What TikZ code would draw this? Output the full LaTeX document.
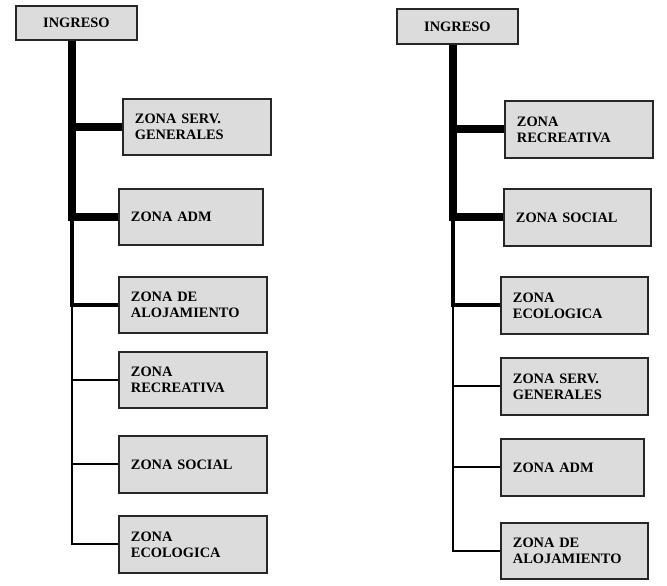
\documentclass[tikz,border=0pt]{standalone}
\usepackage{fontspec}
\setmainfont{Liberation Serif}
\usetikzlibrary{calc}
\definecolor{grisZona}{RGB}{220,220,220}
\tikzset{
  zona/.style={draw=black!85, fill=grisZona, line width=1.4pt, align=left,
    inner xsep=9pt, inner ysep=0pt, font=\bfseries\fontsize{10.8}{12}\selectfont},
  ingreso/.style={zona, align=center},
  grueso/.style={line width=6pt},
  medio/.style={line width=3pt},
  fino/.style={line width=1.5pt}
}
\newcommand\zona[6]{% name, left, top, width, height, text
\pgfmathsetlengthmacro\zonaancho{#4*0.75-18}
\node (#1) at (#2,#3) [zona, anchor=north west, minimum width=#4*0.75pt,
  minimum height=#5*0.75pt, text width=\zonaancho] {#6};}

\begin{document}
\begin{tikzpicture}[x=0.75pt,y=-0.75pt]
      \useasboundingbox (0,0) rectangle (667,585);

      % primer esquema
      \node (ingA) at (15,5) [ingreso, anchor=north west, minimum width=121*0.75pt,
        minimum height=34*0.75pt] {INGRESO};
      \zona{zA1}{122}{98}{148}{56}{ZONA SERV.\\GENERALES}
      \zona{zA2}{118}{188}{144}{56}{ZONA ADM}
      \zona{zA3}{118}{276}{148}{56}{ZONA DE\\ALOJAMIENTO}
      \zona{zA4}{118}{351}{148}{56}{ZONA\\RECREATIVA}
      \zona{zA5}{118}{435}{148}{57}{ZONA SOCIAL}
      \zona{zA6}{118}{515}{148}{57}{ZONA\\ECOLOGICA}
      \coordinate (ejeA) at (72,0);

      \draw[grueso] (ejeA |- ingA.south) |- (zA2.west);
      \draw[grueso] (ejeA |- zA1.west) -- (zA1.west);
      \draw[medio] (ejeA |- zA2.west) |- (zA3.west);
      \draw[fino] (ejeA |- zA3.west) |- (zA6.west);
      \draw[fino] (ejeA |- zA4.west) -- (zA4.west);
      \draw[fino] (ejeA |- zA5.west) -- (zA5.west);

      % segundo esquema
      \node (ingB) at (396,8) [ingreso, anchor=north west, minimum width=121*0.75pt,
        minimum height=35*0.75pt] {INGRESO};
      \zona{zB1}{504}{100}{148}{57}{ZONA\\RECREATIVA}
      \zona{zB2}{503}{188}{147}{57}{ZONA SOCIAL}
      \zona{zB3}{500}{276}{147}{57}{ZONA\\ECOLOGICA}
      \zona{zB4}{500}{357}{147}{57}{ZONA SERV.\\GENERALES}
      \zona{zB5}{500}{438}{143}{57}{ZONA ADM}
      \zona{zB6}{500}{522}{147}{56}{ZONA DE\\ALOJAMIENTO}
      \coordinate (ejeB) at (453,0);

      \draw[grueso] (ejeB |- ingB.south) |- (zB2.west);
      \draw[grueso] (ejeB |- zB1.west) -- (zB1.west);
      \draw[medio] (ejeB |- zB2.west) |- (zB3.west);
      \draw[fino] (ejeB |- zB3.west) |- (zB6.west);
      \draw[fino] (ejeB |- zB4.west) -- (zB4.west);
      \draw[fino] (ejeB |- zB5.west) -- (zB5.west);
    \end{tikzpicture}
\end{document}
